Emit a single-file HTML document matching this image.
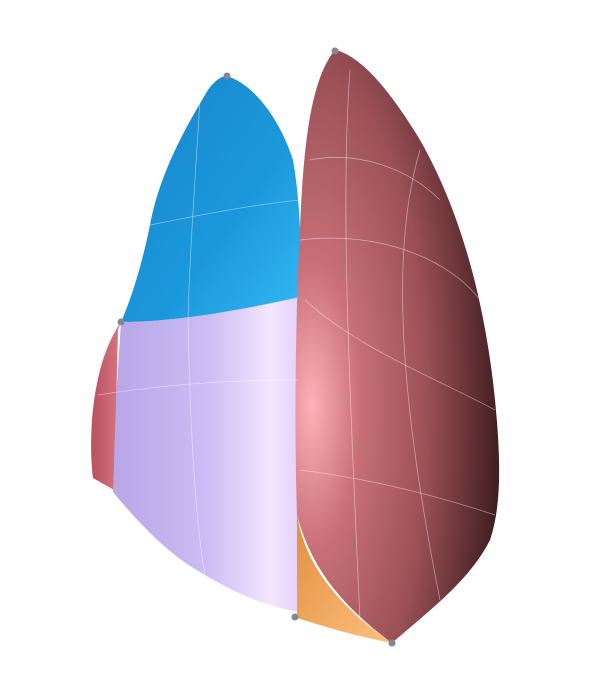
<!DOCTYPE html>
<html><head><meta charset="utf-8"><style>
html,body{margin:0;padding:0;background:#fff;width:594px;height:685px;overflow:hidden}
svg{display:block}
</style></head><body>
<svg width="594" height="685" viewBox="0 0 594 685">
<defs>
<linearGradient id="gBlue" x1="0" y1="0" x2="1" y2="1">
<stop offset="0" stop-color="#1a84c8"/><stop offset="0.6" stop-color="#1b98dc"/><stop offset="1" stop-color="#34b8f4"/></linearGradient>
<linearGradient id="gLav" x1="0" y1="0" x2="1" y2="0">
<stop offset="0" stop-color="#b8a6e8"/><stop offset="0.5" stop-color="#cbbcf4"/><stop offset="0.85" stop-color="#f4e6ff"/><stop offset="1" stop-color="#e2d0fa"/></linearGradient>
<linearGradient id="gPinkL" x1="0" y1="0" x2="1" y2="0">
<stop offset="0" stop-color="#b85060"/><stop offset="1" stop-color="#d87880"/></linearGradient>
<radialGradient id="gRight" cx="0.08" cy="0.6" r="0.95">
<stop offset="0" stop-color="#ffb0b8"/><stop offset="0.25" stop-color="#c87078"/><stop offset="0.6" stop-color="#9a5056"/><stop offset="1" stop-color="#3a1a1c"/></radialGradient>
<linearGradient id="gOr" x1="0" y1="0" x2="1" y2="1">
<stop offset="0" stop-color="#e09040"/><stop offset="1" stop-color="#ffc080"/></linearGradient>
</defs>
<path fill="url(#gPinkL)" d="M121,322 C105,345 95,380 92,420 C90,450 92,470 93,478 L114,490 L118,330 Z"/>
<path fill="url(#gLav)" d="M121,322 C180,322 250,308 300,297 L298,612 C260,605 230,590 200,572 C170,555 140,525 113,492 L116,400 Z"/>
<path fill="url(#gBlue)" d="M121,322 C135,290 145,250 150,225 C160,170 190,120 208,90 C215,80 222,76 227,76 C255,85 280,120 293,160 C300,200 302,250 300,297 C250,308 180,322 121,322 Z"/>
<path fill="url(#gOr)" d="M297,515 C305,560 330,600 392,643 C350,635 320,625 297,618 Z"/>
<path fill="url(#gRight)" d="M335,50 C360,55 390,90 420,140 C460,210 485,300 495,400 C502,470 500,510 490,540 C470,580 430,610 392,643 C340,605 310,565 297,515 C294,420 296,300 300,230 C303,150 310,80 335,50 Z"/>
<g fill="none" stroke="#ffffff" stroke-opacity="0.45" stroke-width="0.8">
<path d="M150,225 C200,215 250,205 300,200"/>
<path d="M200,100 C195,180 190,250 188,318"/>
<path d="M188,318 C190,420 195,520 205,575"/>
<path d="M98,395 C160,385 230,380 298,380"/>
<path d="M310,160 C360,150 410,170 440,200"/>
<path d="M305,300 C360,350 440,380 495,410"/>
<path d="M300,240 C380,230 450,260 480,300"/>
<path d="M420,150 C390,250 400,400 440,600"/>
<path d="M300,470 C380,480 450,500 495,515"/>
<path d="M350,70 C340,200 350,400 360,620"/>
</g>
<g fill="#808890">
<circle cx="227" cy="76" r="3.5"/><circle cx="335" cy="51" r="3.5"/>
<circle cx="121" cy="322" r="3.5"/><circle cx="295" cy="617" r="3.5"/>
<circle cx="392" cy="643" r="3.5"/>
</g>
</svg>
</body></html>
